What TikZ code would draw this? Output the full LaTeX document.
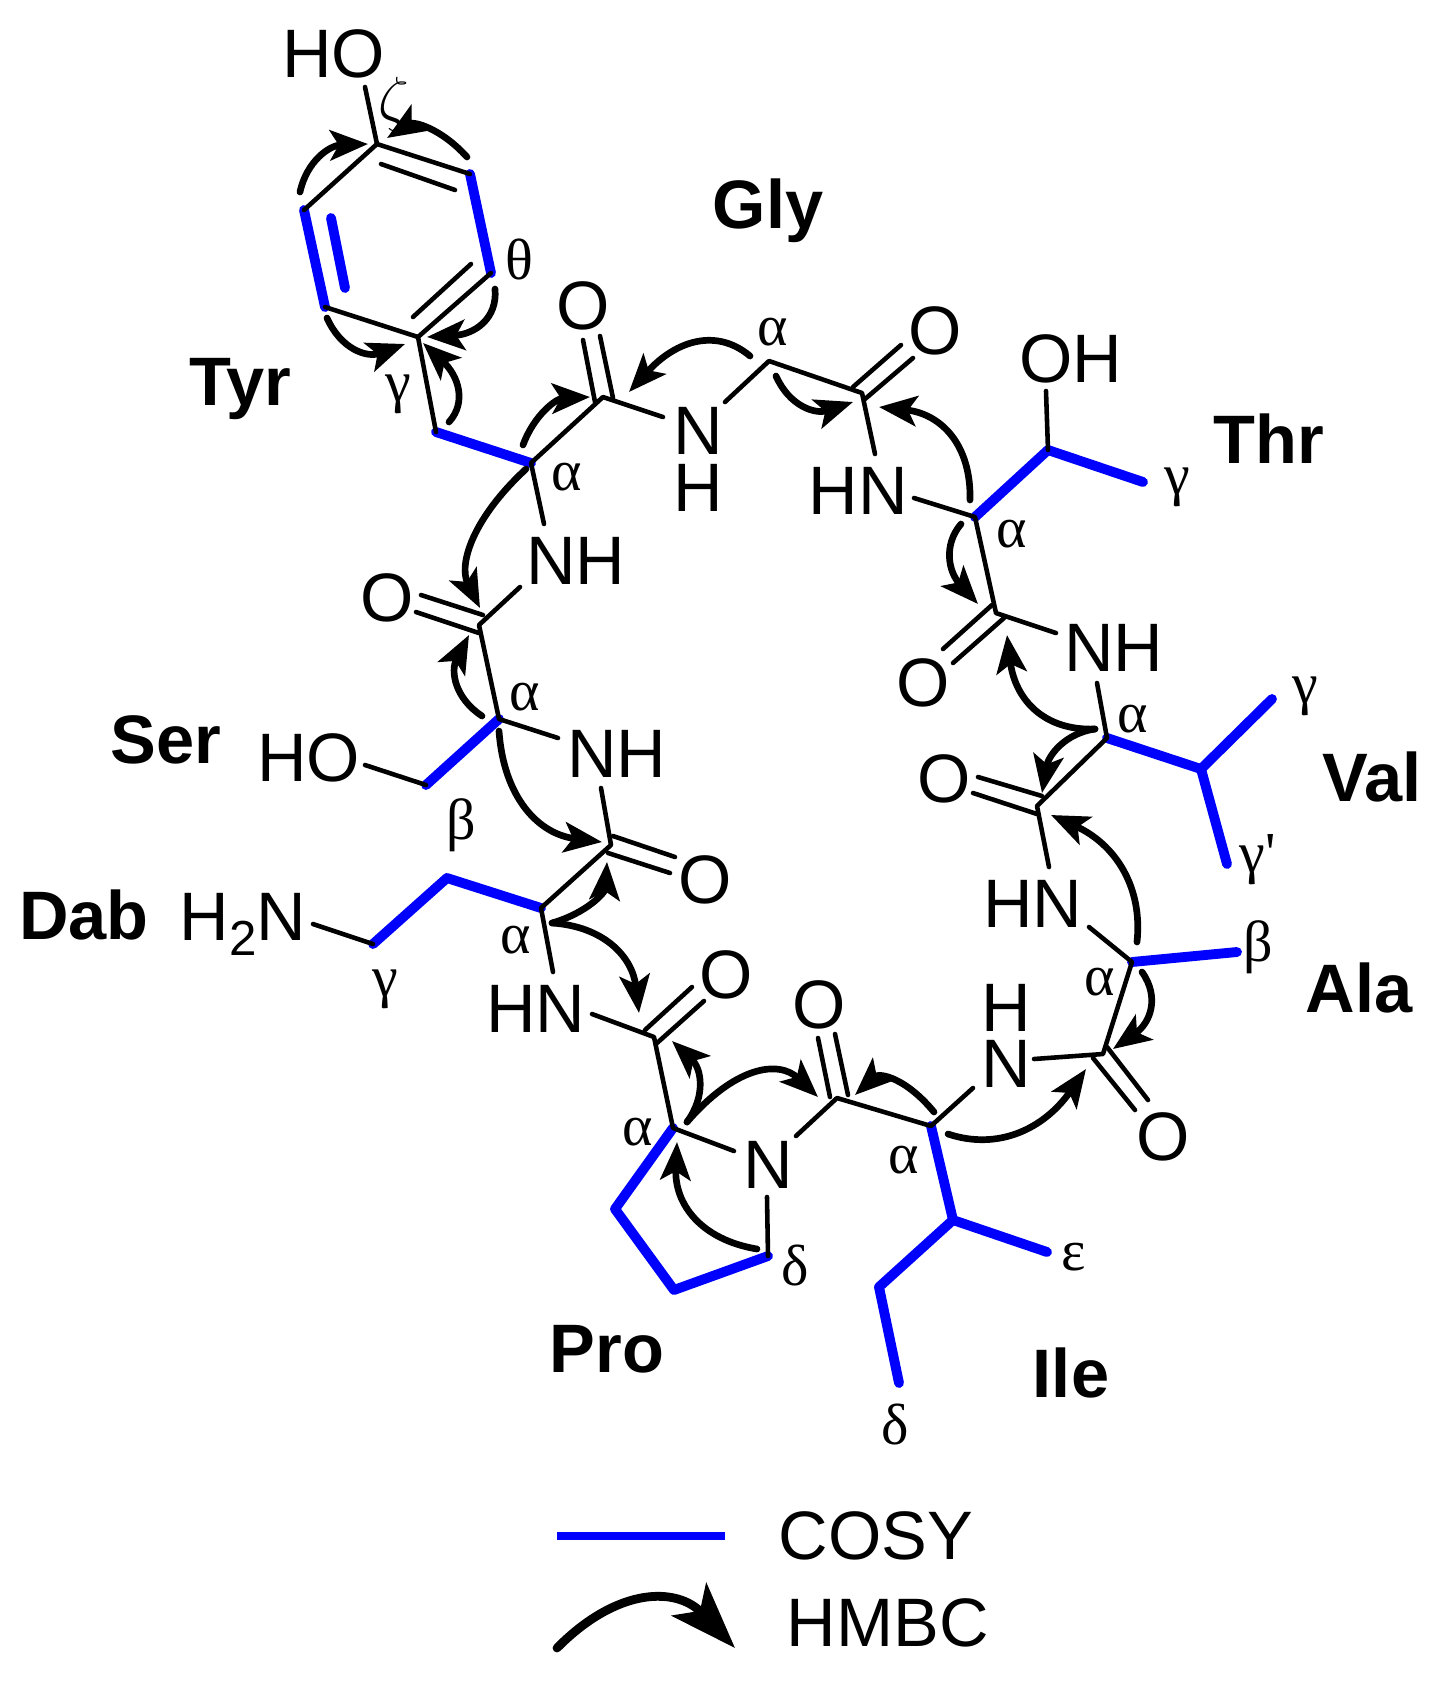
\documentclass[tikz,border=0pt]{standalone}
\usepackage{fontspec}
\setmainfont{Liberation Sans}
\newfontfamily\grk{Liberation Serif}
\usetikzlibrary{arrows.meta,calc}
\tikzset{
  bond/.style={line width=1.3pt,line cap=round,line join=round,black},
  cosy/.style={line width=2.8pt,line cap=round,line join=round,blue},
  hmbc/.style={line width=1.9pt,line cap=round,black,-{Stealth[length=10.8pt,width=8.6pt,inset=2.5pt]}},
  hmbcbig/.style={line width=2.5pt,line cap=round,black,-{Stealth[length=19pt,width=13.5pt,inset=4.5pt]}},
  atomlbl/.style={inner sep=0pt,anchor=base,xshift=0.25pt,font=\fontsize{19.5}{20}\selectfont},
  aalbl/.style={inner sep=0pt,anchor=base,font=\fontsize{19.5}{20}\selectfont\bfseries},
  greek/.style={inner sep=0pt,anchor=center,font=\fontsize{16.5}{17}\selectfont\grk},
}
\newcommand{\arr}[4]{\coordinate (#1s) at (#2); \coordinate (#1c) at (#3); \coordinate (#1e) at (#4);
  \draw[hmbc] (#1s) .. controls ($(#1s)!0.667!(#1c)$) and ($(#1e)!0.667!(#1c)$) .. (#1e);}
\newcommand{\dbl}[3]{\coordinate (#1a) at (#2); \coordinate (#1b) at (#3); \draw[bond] (#1a) -- (#1b);}
\begin{document}
\begin{tikzpicture}[x=0.01cm,y=-0.01cm]
\useasboundingbox (0,0) rectangle (1444,1681);
\fill[white] (0,0) rectangle (1444,1681);

% atoms
\coordinate (r1) at (377,144);
\coordinate (r2) at (470,174);
\coordinate (r3) at (491,273);
\coordinate (r4) at (418,337);
\coordinate (r5) at (325,307);
\coordinate (r6) at (304,210);
\coordinate (ro) at (365,87);
\coordinate (tyrb) at (436,432);
\coordinate (tyra) at (531,463);
\coordinate (tyrc) at (603,397);
\coordinate (glyn) at (663,417);
\coordinate (glyn2) at (725,402);
\coordinate (glya) at (769,361);
\coordinate (glyc) at (862,393);
\coordinate (thrn) at (875,454);
\coordinate (thrn2) at (914,498);
\coordinate (thra) at (975,517);
\coordinate (thrb) at (1048,450);
\coordinate (thro) at (1046,391);
\coordinate (thrg) at (1143,482);
\coordinate (thrc) at (996,613);
\coordinate (valn) at (1056,633);
\coordinate (valn2) at (1097,683);
\coordinate (vala) at (1107,738);
\coordinate (valb) at (1201,769);
\coordinate (valg) at (1272,699);
\coordinate (valh) at (1227,864);
\coordinate (valc) at (1037,806);
\coordinate (alan) at (1049,867);
\coordinate (alan2) at (1089,927);
\coordinate (alaa) at (1132,962);
\coordinate (alab) at (1237,952);
\coordinate (alac) at (1103,1054);
\coordinate (ilen) at (1034,1059);
\coordinate (ilen2) at (973,1088);
\coordinate (ilea) at (931,1126);
\coordinate (ileb) at (953,1220);
\coordinate (ilee) at (1047,1252);
\coordinate (ileg) at (879,1287);
\coordinate (iled) at (899,1383);
\coordinate (ilec) at (837,1098);
\coordinate (pron) at (796,1136);
\coordinate (pron2) at (734,1151);
\coordinate (pron3) at (767,1197);
\coordinate (proa) at (673,1128);
\coordinate (prob) at (615,1209);
\coordinate (prog) at (674,1290);
\coordinate (prod) at (768,1256);
\coordinate (proc) at (654,1037);
\coordinate (dabn) at (592,1014);
\coordinate (dabn2) at (553,972);
\coordinate (daba) at (541,908);
\coordinate (dabb) at (447,878);
\coordinate (dabg) at (373,944);
\coordinate (dabt) at (313,924);
\coordinate (dabc) at (611,845);
\coordinate (sern) at (601,788);
\coordinate (sern2) at (558,738);
\coordinate (sera) at (499,719);
\coordinate (serb) at (426,785);
\coordinate (sero) at (365,765);
\coordinate (serc) at (479,625);
\coordinate (sern3) at (520,587);
\coordinate (tyrn) at (544,524);
\coordinate (ib1) at (331,218);
\coordinate (ib2) at (345,288);

% COSY bonds
\draw[cosy] (r2) -- (r3);
\draw[cosy] (r5) -- (r6);
\draw[cosy] (ib1) -- (ib2);
\draw[cosy] (tyrb) -- (tyra);
\draw[cosy] (thra) -- (thrb) -- (thrg);
\draw[cosy] (vala) -- (valb) -- (valg);
\draw[cosy] (valb) -- (valh);
\draw[cosy] (alaa) -- (alab);
\draw[cosy] (ilea) -- (ileb) -- (ilee);
\draw[cosy] (ileb) -- (ileg) -- (iled);
\draw[cosy] (proa) -- (prob) -- (prog) -- (prod);
\draw[cosy] (daba) -- (dabb) -- (dabg);
\draw[cosy] (sera) -- (serb);

% single bonds
\draw[bond] (ro) -- (r1) -- (r2);
\draw[bond] (r3) -- (r4) -- (r5);
\draw[bond] (r6) -- (r1);
\draw[bond] (r4) -- (tyrb);
\draw[bond] (tyrn) -- (tyra) -- (tyrc) -- (glyn);
\draw[bond] (glyn2) -- (glya) -- (glyc) -- (thrn);
\draw[bond] (thrn2) -- (thra) -- (thrc) -- (valn);
\draw[bond] (thro) -- (thrb);
\draw[bond] (valn2) -- (vala) -- (valc) -- (alan);
\draw[bond] (alan2) -- (alaa) -- (alac) -- (ilen);
\draw[bond] (ilen2) -- (ilea) -- (ilec) -- (pron);
\draw[bond] (pron2) -- (proa) -- (proc) -- (dabn);
\draw[bond] (pron3) -- (prod);
\draw[bond] (dabn2) -- (daba) -- (dabc) -- (sern);
\draw[bond] (sern2) -- (sera) -- (serc) -- (sern3);
\draw[bond] (sero) -- (serb);
\draw[bond] (dabt) -- (dabg);

% double bonds
\dbl{d1}{381,164}{455,190}
\dbl{d2}{471,264}{413,317}
\dbl{d3}{583,340}{595,402}
\dbl{d4}{600,336}{613,398}
\dbl{d5}{853,387}{901,345}
\dbl{d6}{865,399}{913,358}
\dbl{d7}{992,605}{943,649}
\dbl{d8}{1004,618}{953,663}
\dbl{d9}{978,777}{1042,796}
\dbl{d10}{973,793}{1037,814}
\dbl{d11}{1107,1047}{1148,1100}
\dbl{d12}{1093,1058}{1135,1110}
\dbl{d13}{818,1038}{830,1097}
\dbl{d14}{835,1034}{848,1095}
\dbl{d15}{645,1030}{692,987}
\dbl{d16}{657,1043}{704,1001}
\dbl{d17}{613,836}{675,857}
\dbl{d18}{608,853}{670,873}
\dbl{d19}{421,595}{483,615}
\dbl{d20}{416,612}{479,633}

% HMBC arrows
\arr{a1}{300,192}{310,146}{368,144}
\arr{a2}{467,157}{427,113}{387,138}
\arr{a3}{495,289}{499,333}{427,337}
\arr{a4}{327,318}{348,365}{405,344}
\arr{a5}{449,422}{476,392}{423,343}
\arr{a6}{523,445}{540,399}{590,397}
\arr{a7}{750,356}{700,314}{629,392}
\arr{a8}{776,376}{796,421}{853,402}
\arr{a9}{970,500}{972,417}{879,407}
\arr{a10}{961,524}{934,556}{978,604}
\arr{a11}{1095,729}{1019,732}{1007,635}
\arr{a12}{1095,729}{1052,735}{1042,793}
\arr{a13}{1137,942}{1146,858}{1051,815}
\arr{a14}{1142,972}{1169,1010}{1113,1049}
\arr{a15}{948,1134}{1023,1159}{1086,1069}
\arr{a16}{934,1112}{892,1061}{855,1095}
\arr{a17}{687,1122}{758,1040}{818,1097}
\arr{a18}{687,1122}{716,1082}{672,1041}
\arr{a19}{757,1249}{673,1235}{677,1142}
\arr{a20}{552,923}{604,908}{607,862}
\arr{a21}{552,923}{629,928}{639,1013}
\arr{a22}{499,731}{506,830}{602,842}
\arr{a23}{482,716}{441,689}{469,635}
\arr{a24}{526,469}{447,542}{480,608}

% atom labels
\node[atomlbl] (tho) at (333,77) {HO};
\node[atomlbl] (oh) at (1070,382) {OH};
\node[atomlbl] (o1) at (582,329) {O};
\node[atomlbl] (o2) at (934,354) {O};
\node[atomlbl] (o3) at (386,621) {O};
\node[atomlbl] (o4) at (704,903) {O};
\node[atomlbl] (o5) at (725,998) {O};
\node[atomlbl] (o6) at (818,1028) {O};
\node[atomlbl] (o7) at (1162,1160) {O};
\node[atomlbl] (o8) at (922,706) {O};
\node[atomlbl] (o9) at (943,802) {O};
\node[atomlbl] (nh1) at (575,584) {NH};
\node[atomlbl] (nh2) at (857.5,514) {HN};
\node[atomlbl] (nh3) at (1113,671) {NH};
\node[atomlbl] (nh4) at (1032,927) {HN};
\node[atomlbl] (nh5h) at (1005,1031) {H};
\node[atomlbl] (nh5n) at (1005,1087) {N};
\node[atomlbl] (nh6) at (535,1032) {HN};
\node[atomlbl] (npro) at (767,1188) {N};
\node[atomlbl] (nh7n) at (697,454) {N};
\node[atomlbl] (nh7h) at (697,511) {H};
\node[atomlbl] (nh8) at (616,777) {NH};
\node[atomlbl] (serho) at (308,781) {HO};
\node[atomlbl] (h2n) at (242,940) {H\raisebox{-4.3pt}{\fontsize{14}{14}\selectfont 2}N};

% residue labels
\node[aalbl] (gly) at (768,228) {Gly};
\node[aalbl] (tyr) at (240,405) {Tyr};
\node[aalbl] (thr) at (1269,463) {Thr};
\node[aalbl] (ser) at (166,763) {Ser};
\node[aalbl] (val) at (1372,801) {Val};
\node[aalbl] (dab) at (84,939) {Dab};
\node[aalbl] (ala) at (1359,1012) {Ala};
\node[aalbl] (pro) at (607,1372) {Pro};
\node[aalbl] (ile) at (1071,1397) {Ile};

% Greek labels
\node[greek,font=\fontsize{19}{20}\selectfont] (g1) at (394,104) {$\zeta$};
\node[greek] (g2) at (519,259) {θ};
\node[greek] (g3) at (398,394) {γ};
\node[greek] (g4) at (567,477) {α};
\node[greek] (g5) at (773,332) {α};
\node[greek] (g6) at (1012,534) {α};
\node[greek] (g7) at (1177,487) {γ};
\node[greek] (g8) at (1133,719) {α};
\node[greek] (g9) at (1305,696) {γ};
\node[greek] (g10) at (1258,860) {γ'};
\node[greek] (g11) at (1258,947) {β};
\node[greek] (g12) at (1100,982) {α};
\node[greek] (g13) at (904,1160) {α};
\node[greek] (g14) at (1074,1257) {ε};
\node[greek] (g15) at (895,1424) {δ};
\node[greek] (g16) at (638,1132) {α};
\node[greek] (g17) at (795,1265) {δ};
\node[greek] (g18) at (516,940) {α};
\node[greek] (g19) at (385,989) {γ};
\node[greek] (g20) at (461,825) {β};
\node[greek] (g21) at (525,697) {α};

% legend
\coordinate (l1) at (557,1536);
\coordinate (l2) at (725,1536);
\draw[blue,line width=2.3pt] (l1) -- (l2);
\node[atomlbl] (cosy) at (875,1559) {COSY};
\coordinate (l3) at (557,1648);
\coordinate (l4) at (648,1556);
\coordinate (l5) at (735,1648);
\draw[hmbcbig] (l3) .. controls ($(l3)!0.667!(l4)$) and ($(l5)!0.667!(l4)$) .. (l5);
\node[atomlbl] (hmbc) at (887,1646) {HMBC};
\end{tikzpicture}
\end{document}
